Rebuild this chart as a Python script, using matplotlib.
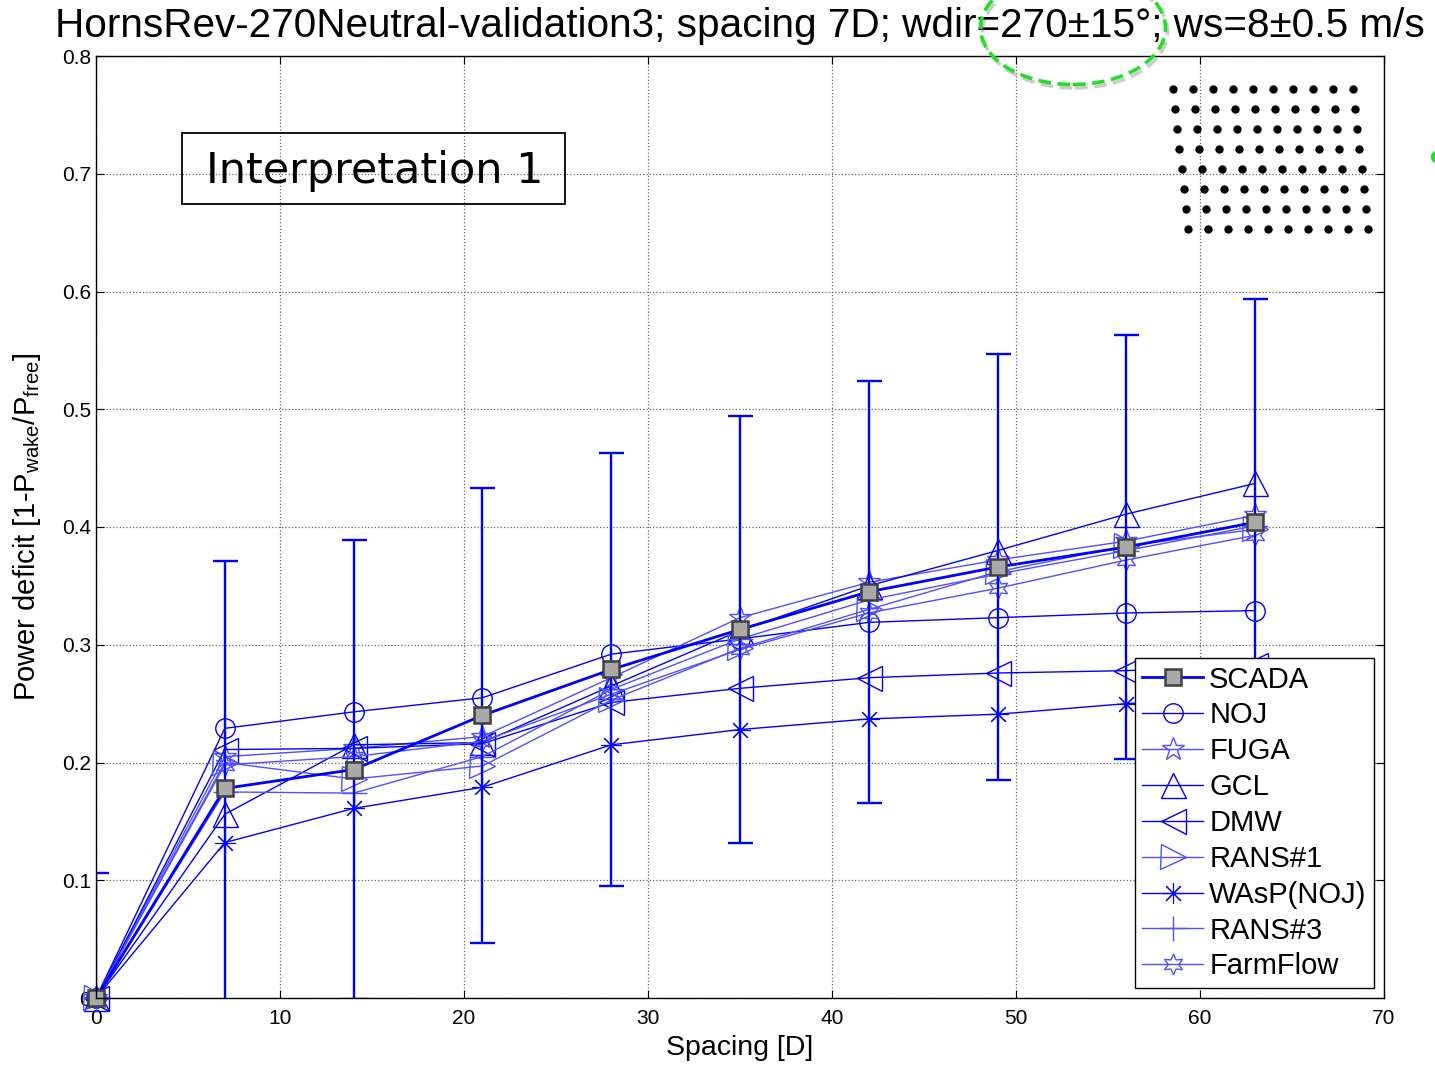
import numpy as np
import matplotlib.pyplot as plt
from matplotlib.patches import Ellipse, Rectangle
import matplotlib.patheffects as pe

plt.rcParams['font.family'] = ['Liberation Sans', 'DejaVu Sans']
plt.rcParams['mathtext.fontset'] = 'custom'
plt.rcParams['mathtext.rm'] = 'Liberation Sans'
plt.rcParams['mathtext.it'] = 'Liberation Sans'

# downstream spacing in rotor diameters
spacing = [0, 7, 14, 21, 28, 35, 42, 49, 56, 63]

# measured data and its scatter
scada = [0, 0.178, 0.194, 0.240, 0.279, 0.313, 0.345, 0.366, 0.383, 0.404]
scada_std = [0.106, 0.193, 0.195, 0.193, 0.184, 0.181, 0.179, 0.181, 0.180, 0.190]

# model results
noj = [0, 0.229, 0.243, 0.255, 0.292, 0.305, 0.319, 0.323, 0.327, 0.329]
fuga = [0, 0.205, 0.212, 0.222, 0.272, 0.323, 0.353, 0.372, 0.388, 0.410]
gcl = [0, 0.156, 0.215, 0.217, 0.265, 0.312, 0.350, 0.380, 0.411, 0.437]
dmw = [0, 0.211, 0.212, 0.216, 0.251, 0.263, 0.272, 0.276, 0.278, 0.283]
rans1 = [0, 0.200, 0.186, 0.197, 0.253, 0.297, 0.330, 0.362, 0.384, 0.398]
wasp = [0, 0.132, 0.161, 0.179, 0.215, 0.228, 0.237, 0.241, 0.250, 0.256]
rans3 = [0, 0.175, 0.174, 0.205, 0.262, 0.305, 0.338, 0.360, 0.380, 0.401]
farmflow = [0, 0.198, 0.205, 0.218, 0.258, 0.296, 0.327, 0.348, 0.372, 0.393]

x_ticks = [0, 10, 20, 30, 40, 50, 60, 70]
y_ticks = [0, 0.1, 0.2, 0.3, 0.4, 0.5, 0.6, 0.7, 0.8]
y_ticklabels = ['0', '0.1', '0.2', '0.3', '0.4', '0.5', '0.6', '0.7', '0.8']

# wind farm layout sketch: 8 rows x 10 columns, rows slightly skewed
n_rows, n_cols, row_skew = 8, 10, 0.107

blue = '#0000ff'
pale = '#5050ff'

fig = plt.figure(figsize=(14.35, 10.65), dpi=100)
ax = fig.add_axes([96 / 1435, 1 - 998 / 1065, (1384 - 96) / 1435, (998 - 56) / 1065])

models = [
    ('NOJ', noj, 'o', 14, blue, 1.0),
    ('FUGA', fuga, '*', 17, pale, 1.0),
    ('GCL', gcl, '^', 18, blue, 1.0),
    ('DMW', dmw, '<', 18, blue, 1.0),
    ('RANS#1', rans1, '>', 18, pale, 1.0),
    ('WAsP(NOJ)', wasp, (8, 2, 0), 15, blue, 0.8),
    ('RANS#3', rans3, '+', 18, pale, 1.0),
    ('FarmFlow', farmflow, (6, 1, 0), 15, pale, 1.0),
]

handles = {}
for name, vals, mk, ms, col, mew in models:
    h, = ax.plot(spacing, vals, color=col, lw=1.0, marker=mk, ms=ms,
                 mfc='none', mec=col, mew=mew, label=name, zorder=3, clip_on=False)
    handles[name] = h

ax.errorbar(spacing, scada, yerr=scada_std, fmt='none', ecolor=blue,
            elinewidth=1.7, capsize=9, capthick=1.7, zorder=4)
h_scada, = ax.plot(spacing, scada, color=blue, lw=2.0, marker='s', ms=12,
                   mfc='#a9a9a9', mec='#404040', mew=1.8, label='SCADA', zorder=5,
                   clip_on=False)

ax.set_xlim(0, 70)
ax.set_ylim(0, 0.8)
ax.set_xticks(x_ticks)
ax.set_yticks(y_ticks)
ax.set_yticklabels(y_ticklabels)
ax.tick_params(direction='in', top=True, right=True, length=6, labelsize=15)
ax.tick_params(axis='x', pad=8)
ax.grid(True, linestyle=':', color='#666666', linewidth=0.9)
for s in ax.spines.values():
    s.set_linewidth(1.0)
    s.set_zorder(6)

ax.set_xlabel('Spacing [D]', fontsize=20.5, labelpad=5)
ax.set_ylabel(r'Power deficit [1-P$_{\rm wake}$/P$_{\rm free}$]', fontsize=21, labelpad=14)

order = [h_scada] + [handles[m[0]] for m in models]
leg = ax.legend(handles=order, loc='lower right', fontsize=21, fancybox=False,
                edgecolor='black', framealpha=1, handlelength=2.1,
                handletextpad=0.2, labelspacing=0.27, borderpad=0.25,
                borderaxespad=0.35)
leg.get_frame().set_linewidth(1.0)
leg.set_zorder(10)

# interpretation label in a plain box
ax.text(0.2165, 0.8775, 'Interpretation 1', transform=ax.transAxes,
        fontsize=31, family='DejaVu Sans', ha='center', va='center', zorder=6)
ax.add_patch(Rectangle(((182 - 96) / 1288, (998 - 204) / 942), 383 / 1288, 71 / 942,
                       transform=ax.transAxes, fill=False, ec='black', lw=1.3, zorder=6))

fig.text(0.5157, 1 - 37 / 1065,
         'HornsRev-270Neutral-validation3; spacing 7D; wdir=270\u00b115\u00b0; ws=8\u00b10.5 m/s',
         fontsize=29.2, ha='center', va='baseline')

# layout inset
ax_in = fig.add_axes([1163 / 1435, 1 - 239 / 1065, 220 / 1435, 160 / 1065])
rows, cols = np.meshgrid(np.arange(n_rows), np.arange(n_cols), indexing='ij')
ax_in.scatter((cols + row_skew * rows).ravel(), (-rows).ravel(), s=36, color='black', lw=0)
ax_in.set_xlim(-0.5, 10.5)
ax_in.set_ylim(-7.5, 0.5)
ax_in.axis('off')

# dashed highlight around the wind direction
ell = Ellipse((1073 / 1435, 1 - 28 / 1065), 185 / 1435, 113 / 1065,
              transform=fig.transFigure, fill=False, ec='#22e022', lw=2.6,
              linestyle=(0, (3.5, 1.8)), zorder=20)
ell.set_path_effects([pe.SimpleLineShadow(offset=(1.5, -2.5), shadow_color='gray', alpha=0.4),
                      pe.Normal()])
fig.patches.append(ell)
dot = Ellipse((1437 / 1435, 1 - 157 / 1065), 11 / 1435, 11 / 1065,
              transform=fig.transFigure, color='#22e022', zorder=20)
fig.patches.append(dot)

plt.savefig('out.png', dpi=100)
